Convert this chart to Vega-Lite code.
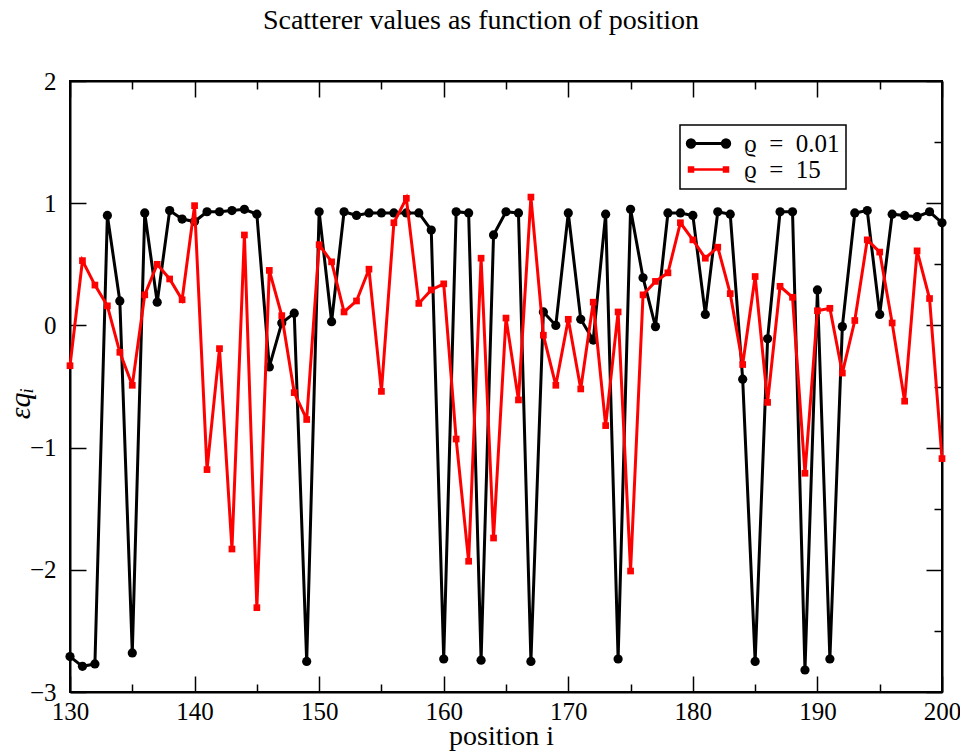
{
  "$schema": "https://vega.github.io/schema/vega-lite/v6.json",
  "width": 872,
  "height": 611,
  "autosize": {"type": "none"},
  "padding": {"left": 70, "top": 81, "right": 18, "bottom": 59},
  "background": "white",
  "title": {
    "text": "Scatterer values as function of position",
    "font": "Liberation Serif",
    "fontSize": 28,
    "fontWeight": "normal",
    "color": "black",
    "anchor": "middle",
    "frame": "group",
    "dx": -25,
    "baseline": "alphabetic",
    "offset": 12
  },
  "config": {
    "view": {"stroke": "black", "strokeWidth": 2},
    "axis": {
      "domainColor": "black",
      "domainWidth": 2,
      "tickColor": "black",
      "tickWidth": 1.5,
      "grid": false,
      "labelFont": "Liberation Serif",
      "labelFontSize": 25,
      "labelColor": "black",
      "titleFont": "Liberation Serif",
      "titleFontWeight": "normal",
      "titleColor": "black"
    }
  },
  "data": {
    "values": [
      {"i": 130, "a": -2.71, "b": -0.33},
      {"i": 131, "a": -2.79, "b": 0.53},
      {"i": 132, "a": -2.77, "b": 0.33},
      {"i": 133, "a": 0.90, "b": 0.16},
      {"i": 134, "a": 0.20, "b": -0.22},
      {"i": 135, "a": -2.68, "b": -0.49},
      {"i": 136, "a": 0.92, "b": 0.25},
      {"i": 137, "a": 0.19, "b": 0.50},
      {"i": 138, "a": 0.94, "b": 0.38},
      {"i": 139, "a": 0.87, "b": 0.21},
      {"i": 140, "a": 0.85, "b": 0.98},
      {"i": 141, "a": 0.93, "b": -1.18},
      {"i": 142, "a": 0.93, "b": -0.19},
      {"i": 143, "a": 0.94, "b": -1.83},
      {"i": 144, "a": 0.95, "b": 0.74},
      {"i": 145, "a": 0.91, "b": -2.31},
      {"i": 146, "a": -0.34, "b": 0.45},
      {"i": 147, "a": 0.02, "b": 0.08},
      {"i": 148, "a": 0.10, "b": -0.55},
      {"i": 149, "a": -2.75, "b": -0.77},
      {"i": 150, "a": 0.93, "b": 0.66},
      {"i": 151, "a": 0.03, "b": 0.52},
      {"i": 152, "a": 0.93, "b": 0.11},
      {"i": 153, "a": 0.90, "b": 0.20},
      {"i": 154, "a": 0.92, "b": 0.46},
      {"i": 155, "a": 0.92, "b": -0.54},
      {"i": 156, "a": 0.92, "b": 0.84},
      {"i": 157, "a": 0.92, "b": 1.04},
      {"i": 158, "a": 0.92, "b": 0.18},
      {"i": 159, "a": 0.78, "b": 0.29},
      {"i": 160, "a": -2.73, "b": 0.34},
      {"i": 161, "a": 0.93, "b": -0.93},
      {"i": 162, "a": 0.92, "b": -1.93},
      {"i": 163, "a": -2.74, "b": 0.55},
      {"i": 164, "a": 0.74, "b": -1.74},
      {"i": 165, "a": 0.93, "b": 0.06},
      {"i": 166, "a": 0.92, "b": -0.61},
      {"i": 167, "a": -2.75, "b": 1.05},
      {"i": 168, "a": 0.11, "b": -0.08},
      {"i": 169, "a": 0.00, "b": -0.49},
      {"i": 170, "a": 0.92, "b": 0.05},
      {"i": 171, "a": 0.05, "b": -0.52},
      {"i": 172, "a": -0.12, "b": 0.19},
      {"i": 173, "a": 0.91, "b": -0.82},
      {"i": 174, "a": -2.73, "b": 0.11},
      {"i": 175, "a": 0.95, "b": -2.01},
      {"i": 176, "a": 0.39, "b": 0.25},
      {"i": 177, "a": -0.01, "b": 0.36},
      {"i": 178, "a": 0.92, "b": 0.43},
      {"i": 179, "a": 0.92, "b": 0.84},
      {"i": 180, "a": 0.90, "b": 0.70},
      {"i": 181, "a": 0.09, "b": 0.55},
      {"i": 182, "a": 0.93, "b": 0.64},
      {"i": 183, "a": 0.91, "b": 0.26},
      {"i": 184, "a": -0.44, "b": -0.32},
      {"i": 185, "a": -2.75, "b": 0.40},
      {"i": 186, "a": -0.11, "b": -0.63},
      {"i": 187, "a": 0.93, "b": 0.32},
      {"i": 188, "a": 0.93, "b": 0.23},
      {"i": 189, "a": -2.82, "b": -1.21},
      {"i": 190, "a": 0.29, "b": 0.12},
      {"i": 191, "a": -2.73, "b": 0.14},
      {"i": 192, "a": -0.01, "b": -0.39},
      {"i": 193, "a": 0.92, "b": 0.04},
      {"i": 194, "a": 0.94, "b": 0.70},
      {"i": 195, "a": 0.09, "b": 0.60},
      {"i": 196, "a": 0.91, "b": 0.02},
      {"i": 197, "a": 0.90, "b": -0.62},
      {"i": 198, "a": 0.89, "b": 0.61},
      {"i": 199, "a": 0.93, "b": 0.22},
      {"i": 200, "a": 0.84, "b": -1.09}
    ]
  },
  "transform": [{"fold": ["a", "b"], "as": ["s", "q"]}],
  "layer": [
    {
      "transform": [{"filter": "datum.s == 'a'"}],
      "mark": {"type": "line", "strokeWidth": 3},
      "encoding": {
        "x": {
          "field": "i", "type": "quantitative",
          "scale": {"domain": [130, 200], "nice": false, "zero": false},
          "axis": {
            "orient": "bottom",
            "values": [130, 135, 140, 145, 150, 155, 160, 165, 170, 175, 180, 185, 190, 195, 200],
            "format": "d",
            "labelExpr": "datum.value % 10 == 0 ? datum.label : ''",
            "tickSize": -16,
            "tickDash": {"condition": {"test": "datum.value % 10 != 0", "value": [8, 40]}, "value": [16, 0]},
            "labelPadding": 23,
            "labelFlush": false,
            "labelOverlap": false,
            "title": "position i",
            "titleFontSize": 28,
            "titleX": 431,
            "titleY": 52,
            "titleAlign": "center",
            "titleBaseline": "alphabetic"
          }
        },
        "y": {
          "field": "q", "type": "quantitative",
          "scale": {"domain": [-3, 2], "nice": false, "zero": false},
          "axis": {
            "orient": "left",
            "values": [-3, -2.5, -2, -1.5, -1, -0.5, 0, 0.5, 1, 1.5, 2],
            "format": "d",
            "labelExpr": "datum.value % 1 == 0 ? datum.label : ''",
            "tickSize": -16,
            "tickDash": {"condition": {"test": "datum.value % 1 != 0", "value": [8, 40]}, "value": [16, 0]},
            "labelPadding": 30,
            "labelFlush": false,
            "labelOverlap": false,
            "title": "εqᵢ",
            "titleFontSize": 30,
            "titleFontStyle": "italic",
            "titleAngle": -90,
            "titleX": -50,
            "titleY": 322,
            "titleAlign": "center",
            "titleBaseline": "middle"
          }
        },
        "color": {
          "field": "s", "type": "nominal",
          "scale": {"domain": ["a", "b"], "range": ["black", "red"]},
          "legend": {
            "orient": "none",
            "legendX": 610,
            "legendY": 44,
            "title": null,
            "labelExpr": "datum.value == 'a' ? 'ϱ\u2002=\u20020.01' : 'ϱ\u2002=\u200215'",
            "labelFont": "Liberation Serif",
            "labelFontSize": 25,
            "labelColor": "black",
            "labelOffset": 33,
            "symbolSize": 400,
            "symbolStrokeWidth": 3,
            "strokeColor": "black",
            "fillColor": "white",
            "padding": 6,
            "rowPadding": -4,
            "encode": {
              "legend": {"update": {"strokeWidth": {"value": 1.5}}},
              "symbols": {
                "update": {
                  "shape": {"signal": "datum.value == 'a' ? 'M-1,0L3,0M-1.12,0A0.37,0.37,0,1,1,-0.38,0A0.37,0.37,0,1,1,-1.12,0ZM2.38,0A0.37,0.37,0,1,1,3.12,0A0.37,0.37,0,1,1,2.38,0Z' : 'M-1,0L3,0M-0.95,-0.2L-0.55,-0.2L-0.55,0.2L-0.95,0.2ZM2.55,-0.2L2.95,-0.2L2.95,0.2L2.55,0.2Z'"},
                  "fill": {"signal": "datum.value == 'a' ? 'black' : 'red'"},
                  "stroke": {"signal": "datum.value == 'a' ? 'black' : 'red'"},
                  "strokeWidth": {"signal": "datum.value == 'a' ? 3 : 2.5"},
                  "opacity": {"value": 1}
                }
              }
            }
          }
        }
      }
    },
    {
      "transform": [{"filter": "datum.s == 'a'"}],
      "mark": {"type": "point", "shape": "circle", "filled": true, "size": 85, "color": "black", "opacity": 1},
      "encoding": {
        "x": {
          "field": "i", "type": "quantitative",
          "scale": {"domain": [130, 200], "nice": false, "zero": false},
          "axis": {
            "orient": "top",
            "values": [130, 135, 140, 145, 150, 155, 160, 165, 170, 175, 180, 185, 190, 195, 200],
            "labels": false,
            "tickSize": -16,
            "tickDash": {"condition": {"test": "datum.value % 10 != 0", "value": [8, 40]}, "value": [16, 0]},
            "title": null
          }
        },
        "y": {
          "field": "q", "type": "quantitative",
          "scale": {"domain": [-3, 2], "nice": false, "zero": false},
          "axis": {
            "orient": "right",
            "values": [-3, -2.5, -2, -1.5, -1, -0.5, 0, 0.5, 1, 1.5, 2],
            "labels": false,
            "tickSize": -16,
            "tickDash": {"condition": {"test": "datum.value % 1 != 0", "value": [8, 40]}, "value": [16, 0]},
            "title": null
          }
        }
      }
    },
    {
      "transform": [{"filter": "datum.s == 'b'"}],
      "mark": {"type": "line", "strokeWidth": 3, "color": "red"},
      "encoding": {
        "x": {"field": "i", "type": "quantitative", "scale": {"domain": [130, 200], "nice": false, "zero": false}, "axis": null},
        "y": {"field": "q", "type": "quantitative", "scale": {"domain": [-3, 2], "nice": false, "zero": false}, "axis": null}
      }
    },
    {
      "transform": [{"filter": "datum.s == 'b'"}],
      "mark": {"type": "point", "shape": "square", "filled": true, "size": 45, "color": "red", "opacity": 1},
      "encoding": {
        "x": {"field": "i", "type": "quantitative", "scale": {"domain": [130, 200], "nice": false, "zero": false}, "axis": null},
        "y": {"field": "q", "type": "quantitative", "scale": {"domain": [-3, 2], "nice": false, "zero": false}, "axis": null}
      }
    }
  ],
  "resolve": {"axis": {"x": "independent", "y": "independent"}}
}
